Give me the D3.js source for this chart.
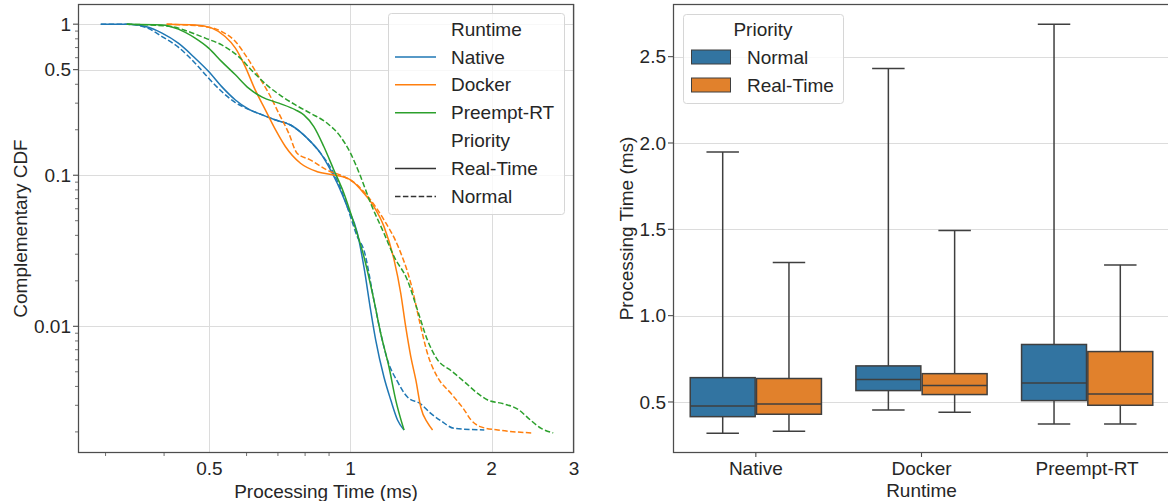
<!DOCTYPE html>
<html>
<head>
<meta charset="utf-8">
<script src="https://cdn.jsdelivr.net/npm/d3@7"></script>
<style>
  body { margin: 0; background: #fff; }
  svg text { font-family: "Liberation Sans", Arial, sans-serif; fill: #262626; }
</style>
</head>
<body>
<svg id="chart" width="1168" height="501"></svg>
<script>
// categories
var runtimes = ["Native", "Docker", "Preempt-RT"];
var priorities = ["Normal", "Real-Time"];

// CCDF curves: [processing time (ms), complementary CDF]
var ccdfNativeRT = [[0.293,1],[0.335,0.997],[0.365,0.964],[0.396,0.872],[0.429,0.748],[0.466,0.595],[0.498,0.486],[0.531,0.386],[0.568,0.315],[0.606,0.274],[0.648,0.251],[0.692,0.232],[0.745,0.215],[0.808,0.176],[0.863,0.140],[0.907,0.108],[0.937,0.0885],[0.984,0.062],[1.034,0.0415],[1.068,0.0248],[1.104,0.0128],[1.132,0.0081],[1.179,0.0046],[1.219,0.00325],[1.26,0.0024],[1.301,0.00206]];
var ccdfNativeNormal = [[0.293,1],[0.335,0.997],[0.365,0.955],[0.396,0.828],[0.429,0.704],[0.466,0.552],[0.498,0.439],[0.531,0.358],[0.568,0.303],[0.606,0.273],[0.648,0.251],[0.692,0.232],[0.745,0.215],[0.808,0.176],[0.863,0.140],[0.920,0.1036],[0.961,0.0763],[1.0,0.0532],[1.034,0.0392],[1.068,0.032],[1.122,0.0149],[1.16,0.009],[1.199,0.006],[1.26,0.0043],[1.323,0.0034],[1.413,0.00306],[1.484,0.00265],[1.56,0.00237],[1.665,0.00211],[1.93,0.00206]];
var ccdfDockerRT = [[0.405,1],[0.466,0.989],[0.506,0.941],[0.540,0.828],[0.568,0.694],[0.596,0.524],[0.626,0.367],[0.658,0.271],[0.692,0.1995],[0.726,0.155],[0.782,0.120],[0.849,0.1056],[0.922,0.1005],[1.0,0.0931],[1.068,0.076],[1.122,0.062],[1.179,0.0457],[1.239,0.0275],[1.28,0.0166],[1.312,0.0099],[1.345,0.0063],[1.379,0.0044],[1.413,0.0029],[1.46,0.0023],[1.497,0.00206]];
var ccdfDockerNormal = [[0.405,1],[0.49,0.964],[0.531,0.893],[0.568,0.767],[0.606,0.58],[0.637,0.45],[0.669,0.349],[0.703,0.257],[0.738,0.19],[0.769,0.14],[0.822,0.126],[0.892,0.108],[0.968,0.098],[1.034,0.086],[1.104,0.0686],[1.179,0.0506],[1.26,0.0345],[1.345,0.0193],[1.413,0.0099],[1.46,0.0066],[1.534,0.0046],[1.638,0.0036],[1.749,0.0028],[1.808,0.0024],[1.899,0.00216],[2.063,0.00206],[2.431,0.00197]];
var ccdfPreemptRT = [[0.333,1],[0.396,0.989],[0.429,0.927],[0.466,0.808],[0.498,0.694],[0.531,0.565],[0.568,0.462],[0.606,0.377],[0.648,0.329],[0.703,0.300],[0.763,0.271],[0.795,0.251],[0.835,0.21],[0.877,0.155],[0.922,0.108],[0.968,0.076],[1.017,0.048],[1.068,0.029],[1.122,0.0149],[1.16,0.009],[1.208,0.0054],[1.249,0.00325],[1.301,0.00206]];
var ccdfPreemptNormal = [[0.333,1],[0.415,0.964],[0.451,0.893],[0.49,0.808],[0.531,0.729],[0.577,0.61],[0.617,0.49],[0.669,0.386],[0.7145,0.332],[0.763,0.292],[0.822,0.257],[0.892,0.221],[0.952,0.18],[1.0,0.14],[1.051,0.098],[1.104,0.0653],[1.179,0.0413],[1.239,0.0289],[1.323,0.0202],[1.39,0.0128],[1.46,0.0081],[1.534,0.006],[1.638,0.0051],[1.749,0.0043],[1.868,0.0036],[1.963,0.00325],[2.131,0.00306],[2.291,0.00279],[2.395,0.00247],[2.554,0.00211],[2.709,0.00197]];

// box plot stats per runtime: [whisker low, q1, median, q3, whisker high]
var boxNormal = [[0.319,0.415,0.477,0.641,1.948],[0.454,0.566,0.630,0.709,2.432],[0.373,0.508,0.610,0.833,2.688]];
var boxRealTime = [[0.330,0.429,0.488,0.636,1.308],[0.440,0.543,0.595,0.664,1.493],[0.373,0.481,0.546,0.792,1.294]];

// tick labels
var ccdfXTicks = [0.5, 1, 2, 3];
var ccdfYTicks = [1, 0.5, 0.1, 0.01];
var boxYTicks = [0.5, 1.0, 1.5, 2.0, 2.5];

var runtimeColor = {"Native": "#1f77b4", "Docker": "#ff7f0e", "Preempt-RT": "#2ca02c"};
var boxColor = {"Normal": "#3274a1", "Real-Time": "#e1812c"};
var dashFor = {"Real-Time": null, "Normal": "5.5,2.4"};

var svg = d3.select("#chart");
var fontSize = 19;
var gridColor = "#dcdcdc";
var spineColor = "#4d4d4d";
var edgeColor = "#3f3f3f";

// ---------------- left panel: CCDF ----------------
var L = {left: 78, right: 574, top: 4, bottom: 453};
var xL = d3.scaleLog().domain([0.262, 3]).range([L.left, L.right]);
var yL = d3.scaleLog().domain([0.00145, 1.36]).range([L.bottom, L.top]);

var gL = svg.append("g");

// grid
gL.selectAll(".vgrid").data(ccdfXTicks).enter().append("line")
  .attr("x1", function(d) { return Math.round(xL(d)) + 0.5; })
  .attr("x2", function(d) { return Math.round(xL(d)) + 0.5; })
  .attr("y1", L.top).attr("y2", L.bottom)
  .attr("stroke", gridColor).attr("stroke-width", 1);
gL.selectAll(".hgrid").data(ccdfYTicks).enter().append("line")
  .attr("x1", L.left).attr("x2", L.right)
  .attr("y1", function(d) { return Math.round(yL(d)) + 0.5; })
  .attr("y2", function(d) { return Math.round(yL(d)) + 0.5; })
  .attr("stroke", gridColor).attr("stroke-width", 1);

// minor ticks
var minorX = [0.3, 0.4, 0.6, 0.7, 0.8, 0.9];
gL.selectAll(".mx").data(minorX).enter().append("line")
  .attr("x1", function(d) { return xL(d); }).attr("x2", function(d) { return xL(d); })
  .attr("y1", L.bottom).attr("y2", L.bottom + 3)
  .attr("stroke", spineColor).attr("stroke-width", 0.8);
var minorY = [];
[0.001, 0.01, 0.1].forEach(function(dec) {
  for (var k = 2; k <= 9; k++) {
    var v = dec * k;
    if (v >= 0.00145 && Math.abs(v - 0.5) > 1e-9) minorY.push(v);
  }
});
gL.selectAll(".my").data(minorY).enter().append("line")
  .attr("x1", L.left - 3).attr("x2", L.left)
  .attr("y1", function(d) { return yL(d); }).attr("y2", function(d) { return yL(d); })
  .attr("stroke", spineColor).attr("stroke-width", 0.8);
gL.selectAll(".My").data(ccdfYTicks).enter().append("line")
  .attr("x1", L.left - 5).attr("x2", L.left)
  .attr("y1", function(d) { return yL(d); }).attr("y2", function(d) { return yL(d); })
  .attr("stroke", spineColor).attr("stroke-width", 1.1);

// tick labels
gL.selectAll(".xl").data(ccdfXTicks).enter().append("text")
  .attr("x", function(d) { return xL(d); }).attr("y", 468).attr("dy", "0.35em")
  .attr("text-anchor", "middle").style("font-size", fontSize + "px")
  .text(function(d) { return d; });
gL.selectAll(".yl").data(ccdfYTicks).enter().append("text")
  .attr("x", L.left - 7).attr("y", function(d) { return yL(d); }).attr("dy", "0.35em")
  .attr("text-anchor", "end").style("font-size", fontSize + "px")
  .text(function(d) { return d; });

// axis titles
gL.append("text").attr("x", (L.left + L.right) / 2).attr("y", 491).attr("dy", "0.35em")
  .attr("text-anchor", "middle").style("font-size", fontSize + "px").text("Processing Time (ms)");
gL.append("text").attr("transform", "translate(20," + ((L.top + L.bottom) / 2) + ") rotate(-90)")
  .attr("dy", "0.35em").attr("text-anchor", "middle").style("font-size", fontSize + "px")
  .text("Complementary CDF");

// curves
svg.append("clipPath").attr("id", "clipL").append("rect")
  .attr("x", L.left).attr("y", L.top).attr("width", L.right - L.left).attr("height", L.bottom - L.top);

var series = [
  {runtime: "Native", priority: "Real-Time", data: ccdfNativeRT},
  {runtime: "Native", priority: "Normal", data: ccdfNativeNormal},
  {runtime: "Docker", priority: "Real-Time", data: ccdfDockerRT},
  {runtime: "Docker", priority: "Normal", data: ccdfDockerNormal},
  {runtime: "Preempt-RT", priority: "Real-Time", data: ccdfPreemptRT},
  {runtime: "Preempt-RT", priority: "Normal", data: ccdfPreemptNormal}
];
var line = d3.line()
  .x(function(d) { return xL(d[0]); })
  .y(function(d) { return yL(d[1]); })
  .curve(d3.curveMonotoneX);

gL.append("g").attr("clip-path", "url(#clipL)")
  .selectAll("path").data(series).enter().append("path")
  .attr("d", function(d) { return line(d.data); })
  .attr("fill", "none")
  .attr("stroke", function(d) { return runtimeColor[d.runtime]; })
  .attr("stroke-width", 1.5)
  .attr("stroke-dasharray", function(d) { return dashFor[d.priority]; });

// frame
gL.append("rect").attr("x", L.left + 0.5).attr("y", L.top + 0.5)
  .attr("width", L.right - L.left - 1).attr("height", L.bottom - L.top - 1)
  .attr("fill", "none").attr("stroke", spineColor).attr("stroke-width", 1.25);

// legend
var legL = gL.append("g");
legL.append("rect").attr("x", 388.5).attr("y", 13.5).attr("width", 176).attr("height", 201)
  .attr("rx", 3).attr("fill", "#fff").attr("fill-opacity", 0.8)
  .attr("stroke", "#d6d6d6").attr("stroke-width", 1);
var legRows = [
  {label: "Runtime"},
  {label: "Native", color: runtimeColor["Native"], dash: null},
  {label: "Docker", color: runtimeColor["Docker"], dash: null},
  {label: "Preempt-RT", color: runtimeColor["Preempt-RT"], dash: null},
  {label: "Priority"},
  {label: "Real-Time", color: "#333333", dash: dashFor["Real-Time"]},
  {label: "Normal", color: "#333333", dash: dashFor["Normal"]}
];
legRows.forEach(function(r, i) {
  var y = 29 + i * 27.9;
  if (r.color) {
    legL.append("line").attr("x1", 395).attr("x2", 436).attr("y1", y).attr("y2", y)
      .attr("stroke", r.color).attr("stroke-width", 1.5).attr("stroke-dasharray", r.dash);
  }
  legL.append("text").attr("x", 451).attr("y", y).attr("dy", "0.35em")
    .style("font-size", fontSize + "px").text(r.label);
});

// ---------------- right panel: box plot ----------------
var R = {left: 673, right: 1170, top: 4, bottom: 453};
var xR = d3.scaleBand().domain(runtimes).range([R.left, R.right]);
var hue = d3.scaleBand().domain(priorities).range([0, xR.bandwidth() * 0.8]);
var yR = d3.scaleLinear().domain([0.2045, 2.805]).range([R.bottom, R.top]);

var gR = svg.append("g");

gR.selectAll(".hgrid").data(boxYTicks).enter().append("line")
  .attr("x1", R.left).attr("x2", R.right)
  .attr("y1", function(d) { return Math.round(yR(d)) + 0.5; })
  .attr("y2", function(d) { return Math.round(yR(d)) + 0.5; })
  .attr("stroke", gridColor).attr("stroke-width", 1);

gR.selectAll(".yt").data(boxYTicks).enter().append("line")
  .attr("x1", R.left - 5).attr("x2", R.left)
  .attr("y1", function(d) { return yR(d); }).attr("y2", function(d) { return yR(d); })
  .attr("stroke", spineColor).attr("stroke-width", 1.1);
gR.selectAll(".yl").data(boxYTicks).enter().append("text")
  .attr("x", R.left - 7).attr("y", function(d) { return yR(d); }).attr("dy", "0.35em")
  .attr("text-anchor", "end").style("font-size", fontSize + "px")
  .text(function(d) { return d.toFixed(1); });

gR.selectAll(".xt").data(runtimes).enter().append("line")
  .attr("x1", function(d) { return xR(d) + xR.bandwidth() / 2; })
  .attr("x2", function(d) { return xR(d) + xR.bandwidth() / 2; })
  .attr("y1", R.bottom).attr("y2", R.bottom + 4)
  .attr("stroke", spineColor).attr("stroke-width", 1.1);
gR.selectAll(".xl").data(runtimes).enter().append("text")
  .attr("x", function(d) { return xR(d) + xR.bandwidth() / 2; }).attr("y", 468).attr("dy", "0.35em")
  .attr("text-anchor", "middle").style("font-size", fontSize + "px")
  .text(function(d) { return d; });

gR.append("text").attr("x", xR("Docker") + xR.bandwidth() / 2).attr("y", 490).attr("dy", "0.35em")
  .attr("text-anchor", "middle").style("font-size", fontSize + "px").text("Runtime");
gR.append("text").attr("transform", "translate(626," + ((R.top + R.bottom) / 2) + ") rotate(-90)")
  .attr("dy", "0.35em").attr("text-anchor", "middle").style("font-size", fontSize + "px")
  .text("Processing Time (ms)");

// boxes
var boxes = [];
runtimes.forEach(function(rt, i) {
  boxes.push({runtime: rt, priority: "Normal", s: boxNormal[i]});
  boxes.push({runtime: rt, priority: "Real-Time", s: boxRealTime[i]});
});
var bw = hue.bandwidth() * 0.98;
var bg = gR.selectAll(".box").data(boxes).enter().append("g");
bg.each(function(d) {
  var g = d3.select(this);
  var cx = xR(d.runtime) + xR.bandwidth() * 0.1 + hue(d.priority) + hue.bandwidth() / 2;
  var s = d.s;
  // whiskers
  g.append("line").attr("x1", cx).attr("x2", cx).attr("y1", yR(s[0])).attr("y2", yR(s[1]))
    .attr("stroke", edgeColor).attr("stroke-width", 1.5);
  g.append("line").attr("x1", cx).attr("x2", cx).attr("y1", yR(s[3])).attr("y2", yR(s[4]))
    .attr("stroke", edgeColor).attr("stroke-width", 1.5);
  g.append("line").attr("x1", cx - bw / 4).attr("x2", cx + bw / 4).attr("y1", yR(s[0])).attr("y2", yR(s[0]))
    .attr("stroke", edgeColor).attr("stroke-width", 1.5);
  g.append("line").attr("x1", cx - bw / 4).attr("x2", cx + bw / 4).attr("y1", yR(s[4])).attr("y2", yR(s[4]))
    .attr("stroke", edgeColor).attr("stroke-width", 1.5);
  // box
  g.append("rect").attr("x", cx - bw / 2).attr("y", yR(s[3]))
    .attr("width", bw).attr("height", yR(s[1]) - yR(s[3]))
    .attr("fill", boxColor[d.priority]).attr("stroke", edgeColor).attr("stroke-width", 1.5);
  g.append("line").attr("x1", cx - bw / 2).attr("x2", cx + bw / 2).attr("y1", yR(s[2])).attr("y2", yR(s[2]))
    .attr("stroke", edgeColor).attr("stroke-width", 1.5);
});

// spines (right one falls outside the window)
gR.append("rect").attr("x", R.left + 0.5).attr("y", R.top + 0.5)
  .attr("width", R.right - R.left - 1).attr("height", R.bottom - R.top - 1)
  .attr("fill", "none").attr("stroke", spineColor).attr("stroke-width", 1.25);

// legend
var legR = gR.append("g");
legR.append("rect").attr("x", 683.5).attr("y", 14.5).attr("width", 160).attr("height", 89)
  .attr("rx", 3).attr("fill", "#fff").attr("fill-opacity", 0.8)
  .attr("stroke", "#d6d6d6").attr("stroke-width", 1);
legR.append("text").attr("x", 763).attr("y", 29).attr("dy", "0.35em")
  .attr("text-anchor", "middle").style("font-size", fontSize + "px").text("Priority");
priorities.forEach(function(p, i) {
  var y = 57 + i * 28;
  legR.append("rect").attr("x", 691.5).attr("y", y - 7).attr("width", 39).attr("height", 14)
    .attr("fill", boxColor[p]).attr("stroke", edgeColor).attr("stroke-width", 1);
  legR.append("text").attr("x", 747).attr("y", y).attr("dy", "0.35em")
    .style("font-size", fontSize + "px").text(p);
});
</script>
</body>
</html>
